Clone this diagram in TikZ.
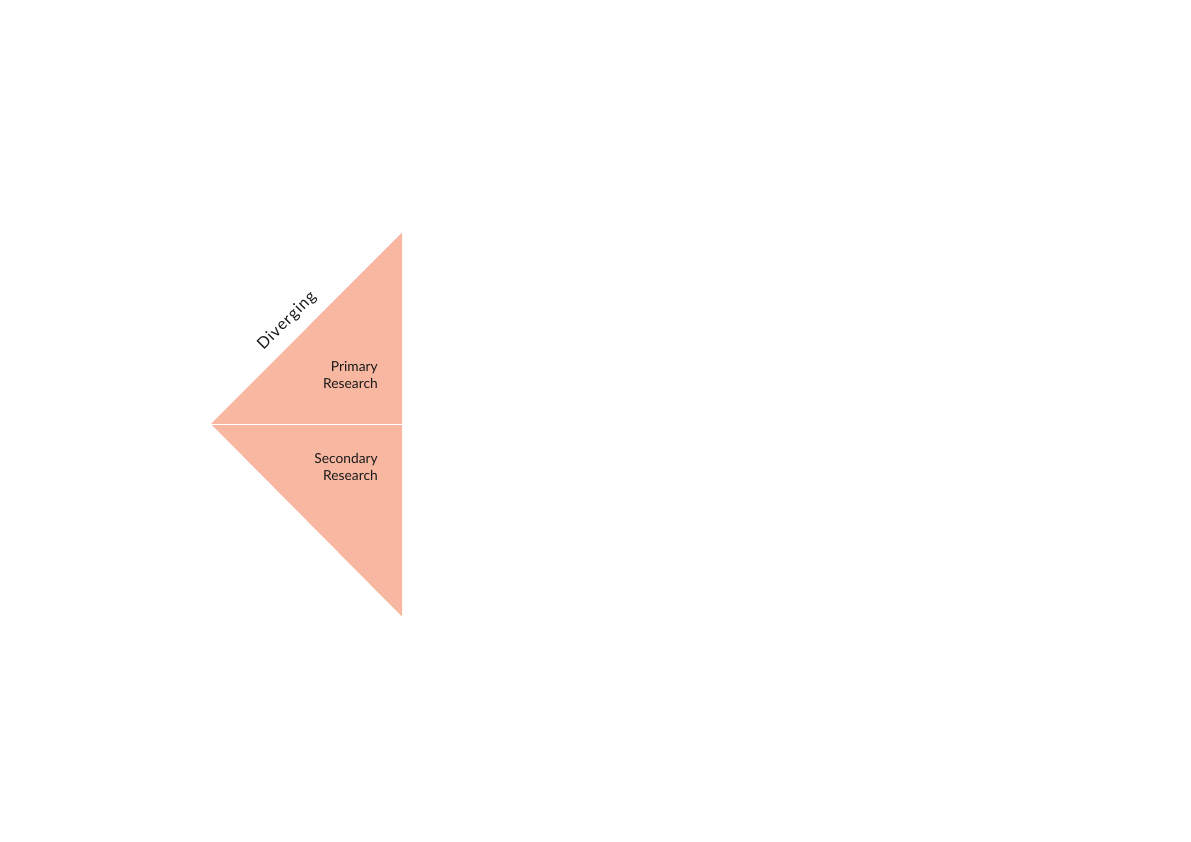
\documentclass[tikz,border=0pt]{standalone}
\usepackage{fontspec}
\setmainfont{Lato}
\usetikzlibrary{positioning}
\definecolor{salmon}{HTML}{F8B7A1}
\definecolor{ink}{HTML}{1A1A1A}

\begin{document}
\begin{tikzpicture}[x=1pt, y=-1pt,
  label/.style={align=right, anchor=base east, inner sep=0pt, text=ink,
    font=\fontsize{13.8}{16.6}\selectfont}]
\useasboundingbox (0,0) rectangle (1191,842);
% the two halves of the triangle
\fill[salmon] (211,424) -- (402,232.5) -- (402,616.5) -- cycle;
\draw[white, line width=1pt] (211,424) -- (402,424); % gap between the halves
\node[label] (prim) at (378,388) {Primary\\Research};
\node[label] (sec) at (378,480) {Secondary\\Research};
\node[rotate=45, inner sep=0pt, text=ink, font=\fontsize{16}{18}\selectfont] (div) at (287,321) {\addfontfeature{LetterSpace=6}Diverging};
\end{tikzpicture}
\end{document}
